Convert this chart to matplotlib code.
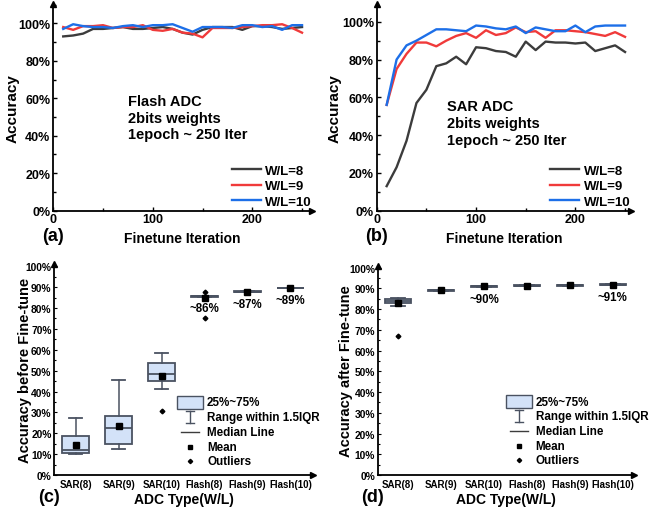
import matplotlib
matplotlib.use("Agg")
import matplotlib.pyplot as plt
from matplotlib.ticker import MultipleLocator, FuncFormatter
from matplotlib.patches import Rectangle
from matplotlib.lines import Line2D

plt.rcParams['font.family'] = ['Liberation Sans', 'DejaVu Sans']
plt.rcParams['font.weight'] = 'bold'

# finetune curves
iters = [10, 20, 30, 40, 50, 60, 70, 80, 90, 100, 110, 120, 130, 140, 150,
         160, 170, 180, 190, 200, 210, 220, 230, 240, 250]

flash_wl8 = [93, 93.5, 94.5, 97, 97, 97.5, 98, 97, 97, 97.5, 98, 97, 95, 94, 96.5,
             98, 98, 98, 96.5, 98.5, 98.5, 98, 97, 97.5, 98]
flash_wl9 = [98, 96.5, 98.5, 98.5, 99, 97.5, 98, 98, 99, 96.5, 96, 97, 95, 94.5, 92.5,
             97.5, 97.5, 97.5, 98, 98.5, 99, 99, 99.5, 97.5, 95]
flash_wl10 = [97, 99.5, 98.5, 98, 98, 97.5, 98.5, 99, 98, 99, 99, 99.5, 97.5, 95.5, 98,
              98, 98, 97.5, 99, 99, 98, 98.5, 96.5, 99, 99]

sar_wl8 = [13, 23, 37, 57, 64, 76.5, 78, 81.5, 77.5, 86.5, 86, 84.5, 84, 81.5, 89.5,
           85, 89.5, 89, 89, 88.5, 89, 84.5, 86, 87.5, 84]
sar_wl9 = [56, 75, 83, 89, 89, 87, 90, 92.5, 94, 91.5, 95.5, 93, 94, 97, 94.5,
           95, 91.5, 95.5, 95.5, 95, 94.5, 93.5, 92.5, 94.5, 92]
sar_wl10 = [56, 80, 87.5, 90, 93, 96, 96, 95.5, 95, 98, 97.5, 96.5, 96, 97.5, 94,
            97, 96, 95, 95, 98, 94.5, 97.5, 98, 98, 98]

# box plot summaries
adc_types = ['SAR(8)', 'SAR(9)', 'SAR(10)', 'Flash(8)', 'Flash(9)', 'Flash(10)']

before_q1 = [10.5, 15, 45, 85.5, 87.6, 89.4]
before_med = [12, 22.5, 48.5, 85.8, 87.8, 89.6]
before_q3 = [18.5, 28.5, 53.5, 86, 88, 89.8]
before_lo = [10, 12.5, 41, 85.5, 87.6, 89.4]
before_hi = [27.5, 45.5, 58.5, 86, 88, 89.8]
before_mean = [14.5, 23.7, 47.6, 84.8, 87.7, 89.5]
before_fliers = [[], [], [30.5], [87.5, 75.3], [], []]
before_notes = ['', '', '', '~86%', '~87%', '~89%']

after_q1 = [83, 88.7, 90.8, 91, 91.3, 91.5]
after_med = [84, 89, 91, 91.2, 91.5, 91.7]
after_q3 = [85, 89.3, 91.2, 91.4, 91.7, 91.9]
after_lo = [81.3, 88.7, 90.8, 91, 91.3, 91.5]
after_hi = [85.5, 89.3, 91.2, 91.4, 91.7, 91.9]
after_mean = [82.8, 89, 91, 91.2, 91.5, 91.7]
after_fliers = [[67], [], [], [], [], []]
after_notes = ['', '', '~90%', '', '', '~91%']

c_gray = '#3c3c3c'
c_red = '#f03a3a'
c_blue = '#1d6fe8'
box_face = '#d3e2f8'
box_edge = '#4a5261'

fig = plt.figure(figsize=(6.52, 5.10), dpi=100)

pct = FuncFormatter(lambda v, p: f'{v:.0f}%')


def arrow_axes(ax):
    for s in ['top', 'right']:
        ax.spines[s].set_visible(False)
    for s in ['left', 'bottom']:
        ax.spines[s].set_linewidth(1.3)
    ax.plot(1, 0, '>k', ms=5, transform=ax.transAxes, clip_on=False)
    ax.plot(0, 1, '^k', ms=5, transform=ax.transAxes, clip_on=False)


def line_panel(rect, ylim_top, xlim_top, series, title_lines, tx, ty, label, ylab_x):
    ax = fig.add_axes(rect)
    for ys, col, name in series:
        ax.plot(iters, ys, color=col, lw=1.7, label=name)
    ax.set_xlim(0, xlim_top)
    ax.set_ylim(0, ylim_top)
    arrow_axes(ax)
    ax.yaxis.set_major_locator(MultipleLocator(20))
    ax.yaxis.set_minor_locator(MultipleLocator(10))
    ax.xaxis.set_major_locator(MultipleLocator(100))
    ax.xaxis.set_minor_locator(MultipleLocator(50))
    ax.set_yticks([0, 20, 40, 60, 80, 100])
    ax.yaxis.set_major_formatter(pct)
    ax.tick_params(which='both', direction='in', labelsize=9, width=1, pad=2)
    ax.tick_params(which='major', length=3)
    ax.tick_params(which='minor', length=2)
    ax.set_xlabel('Finetune Iteration', fontsize=10, fontweight='bold')
    ax.set_ylabel('Accuracy', fontsize=11, fontweight='bold')
    ax.xaxis.set_label_coords(0.5, -0.098)
    ax.yaxis.set_label_coords(ylab_x, 0.5)
    ax.text(tx, ty, '\n'.join(title_lines), transform=ax.transAxes, fontsize=10.5,
            fontweight='bold', va='top', ha='left', linespacing=1.25)
    ax.legend(loc='lower right', bbox_to_anchor=(1.03, -0.025), frameon=False,
              handlelength=2.2, handletextpad=0.35, labelspacing=0.25,
              borderaxespad=0.2, prop={'weight': 'bold', 'size': 9.5})
    ax.text(0.0, -0.122, label, transform=ax.transAxes, fontsize=13,
            fontweight='bold', va='center', ha='center')
    return ax


line_panel([0.0817, 0.5849, 0.3968, 0.4053], 110.3, 260,
           [(flash_wl8, c_gray, 'W/L=8'), (flash_wl9, c_red, 'W/L=9'),
            (flash_wl10, c_blue, 'W/L=10')],
           ['Flash ADC', '2bits weights', '1epoch ~ 250 Iter'], 0.289, 0.565, '(a)', -0.129)

line_panel([0.5778, 0.5849, 0.3900, 0.4053], 109.4, 256,
           [(sar_wl8, c_gray, 'W/L=8'), (sar_wl9, c_red, 'W/L=9'),
            (sar_wl10, c_blue, 'W/L=10')],
           ['SAR ADC', '2bits weights', '1epoch ~ 250 Iter'], 0.276, 0.54, '(b)', -0.140)


def box_panel(rect, xlim, q1, med, q3, lo, hi, mean, fliers, notes, ylabel, label,
              leg_x, leg_y, ylab_x):
    ax = fig.add_axes(rect)
    stats = []
    for i in range(len(adc_types)):
        stats.append(dict(q1=q1[i], med=med[i], q3=q3[i], whislo=lo[i], whishi=hi[i],
                          mean=mean[i], fliers=fliers[i], label=adc_types[i]))
    ax.bxp(stats, positions=range(1, len(adc_types) + 1), widths=0.62,
           patch_artist=True, showmeans=True,
           boxprops=dict(facecolor=box_face, edgecolor=box_edge, linewidth=1.3),
           medianprops=dict(color=box_edge, linewidth=1.3),
           whiskerprops=dict(color=box_edge, linewidth=1.1),
           capprops=dict(color=box_edge, linewidth=1.3),
           meanprops=dict(marker='s', markerfacecolor='black', markeredgecolor='black',
                          markersize=4),
           flierprops=dict(marker='D', markerfacecolor='black', markeredgecolor='black',
                           markersize=2.4))
    for i, n in enumerate(notes):
        if n:
            ax.text(i + 1, med[i] - 3.0, n, ha='center', va='top', fontsize=8.3,
                    fontweight='bold')
    ax.set_xlim(*xlim)
    ax.set_ylim(0, 101)
    arrow_axes(ax)
    ax.yaxis.set_major_locator(MultipleLocator(10))
    ax.yaxis.set_minor_locator(MultipleLocator(5))
    ax.yaxis.set_major_formatter(pct)
    ax.tick_params(axis='y', which='both', direction='in', labelsize=7.4, pad=2, width=0.8)
    ax.tick_params(axis='y', which='major', length=2.5)
    ax.tick_params(axis='y', which='minor', length=1.5)
    ax.tick_params(axis='x', length=0, labelsize=7, pad=3)
    ax.set_xlabel('ADC Type(W/L)', fontsize=10, fontweight='bold', labelpad=2)
    ax.set_ylabel(ylabel, fontsize=10.5, fontweight='bold')
    ax.yaxis.set_label_coords(ylab_x, 0.5)
    ax.text(-0.022, -0.104, label, transform=ax.transAxes, fontsize=13,
            fontweight='bold', va='center', ha='center')

    # hand-drawn legend
    tr = ax.transAxes
    dy = 0.07
    ax.add_patch(Rectangle((leg_x, leg_y - 0.03), 0.10, 0.06, transform=tr,
                           facecolor=box_face, edgecolor=box_edge, lw=1.0, clip_on=False))
    xc = leg_x + 0.05
    y2 = leg_y - dy
    ax.add_line(Line2D([xc, xc], [y2 - 0.028, y2 + 0.028], transform=tr, color=box_edge, lw=1))
    ax.add_line(Line2D([xc - 0.015, xc + 0.015], [y2 + 0.028] * 2, transform=tr, color=box_edge, lw=1))
    ax.add_line(Line2D([xc - 0.015, xc + 0.015], [y2 - 0.028] * 2, transform=tr, color=box_edge, lw=1))
    y3 = leg_y - 2 * dy
    ax.add_line(Line2D([leg_x + 0.015, leg_x + 0.085], [y3, y3], transform=tr, color=c_gray, lw=1))
    ax.plot(xc, leg_y - 3 * dy, 's', color='black', ms=3.5, transform=tr, clip_on=False)
    ax.plot(xc, leg_y - 4 * dy, 'D', color='black', ms=2.2, transform=tr, clip_on=False)
    names = ['25%~75%', 'Range within 1.5IQR', 'Median Line', 'Mean', 'Outliers']
    for k, nm in enumerate(names):
        ax.text(leg_x + 0.115, leg_y - k * dy, nm, transform=tr, fontsize=8.4,
                fontweight='bold', va='center', ha='left')
    return ax


box_panel([0.0833, 0.0667, 0.3970, 0.4133], (0.5, 6.53),
          before_q1, before_med, before_q3, before_lo, before_hi, before_mean,
          before_fliers, before_notes, 'Accuracy before Fine-tune', '(c)', 0.475, 0.345,
          -0.086)

box_panel([0.5793, 0.0667, 0.3936, 0.4106], (0.53, 6.5),
          after_q1, after_med, after_q3, after_lo, after_hi, after_mean,
          after_fliers, after_notes, 'Accuracy after Fine-tune', '(d)', 0.5, 0.35,
          -0.096)

fig.savefig('out.png', dpi=100)
